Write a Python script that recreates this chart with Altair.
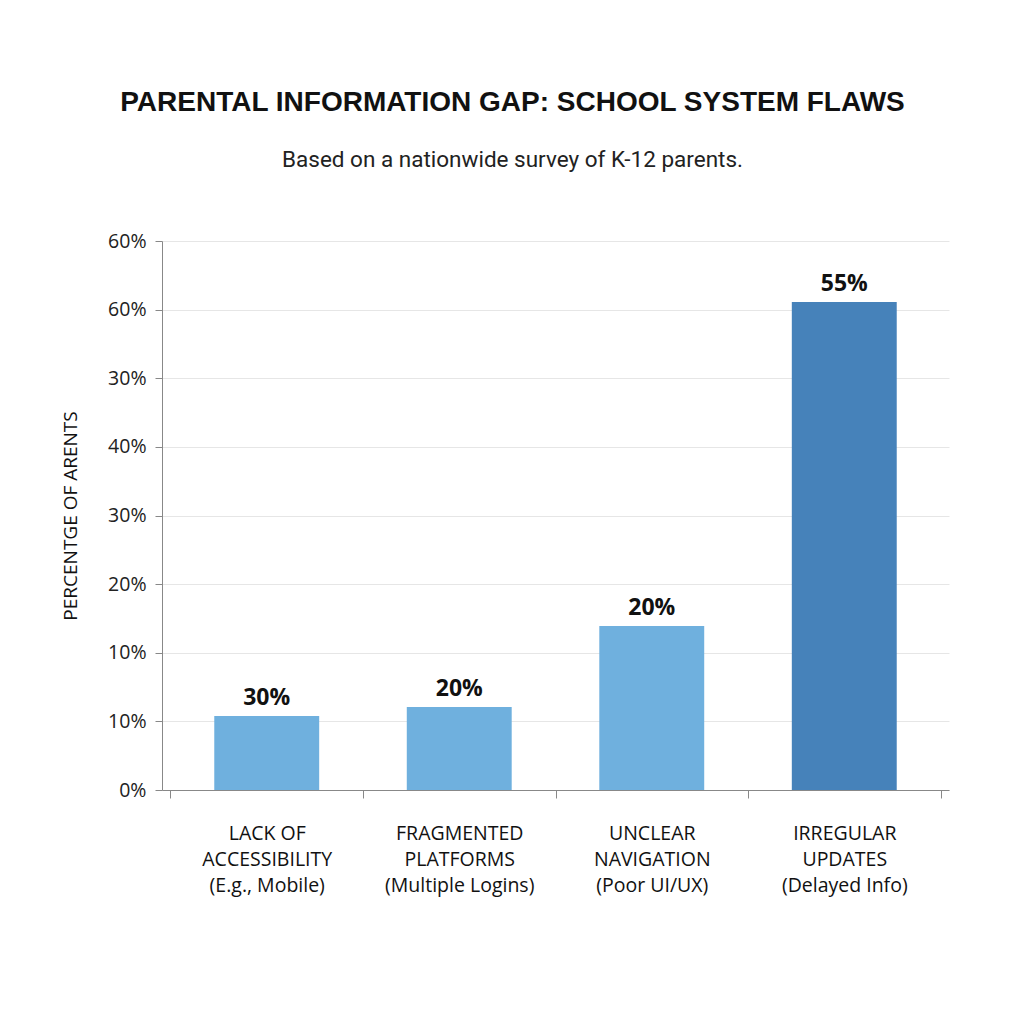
import altair as alt
import pandas as pd

categories = [
    "LACK OF|ACCESSIBILITY|(E.g., Mobile)",
    "FRAGMENTED|PLATFORMS|(Multiple Logins)",
    "UNCLEAR|NAVIGATION|(Poor UI/UX)",
    "IRREGULAR|UPDATES|(Delayed Info)",
]
# bar heights in axis-tick units (tick positions 0..8 as drawn)
heights = [1.08, 1.21, 2.39, 7.11]
bar_labels = ["30%", "20%", "20%", "55%"]
bar_colors = ["#6FB0DE", "#6FB0DE", "#6FB0DE", "#4682BA"]
tick_labels = ["0%", "10%", "10%", "20%", "30%", "40%", "30%", "60%", "60%"]

df = pd.DataFrame({"cat": categories, "h": heights, "lab": bar_labels, "col": bar_colors})

label_expr = "[" + ",".join(f"'{t}'" for t in tick_labels) + "][datum.value]"

x = alt.X("cat:N", sort=categories, title=None,
          scale=alt.Scale(paddingInner=0, paddingOuter=0.044),
          axis=alt.Axis(labelAngle=0, labelExpr="split(datum.label, '|')",
                        labelFont="Open Sans", labelFontSize=19.5, labelColor="#111",
                        labelLineHeight=26, labelPadding=26, labelBaseline="top",
                        domainColor="#888", tickColor="#888", tickBand="extent",
                        tickSize=8))
y = alt.Y("h:Q", title="PERCENTGE OF ARENTS",
          scale=alt.Scale(domain=[0, 8], nice=False),
          axis=alt.Axis(values=list(range(9)), labelExpr=label_expr,
                        labelFont="Open Sans", labelFontSize=19.5, labelColor="#222",
                        labelPadding=9, tickSize=7, tickColor="#888",
                        domainColor="#888", gridColor="#E6E6E6",
                        titleFont="Open Sans", titleFontSize=19, titleFontWeight="normal",
                        titleColor="#111", titlePadding=27))

bars = alt.Chart(df).mark_bar(width=alt.RelativeBandSize(0.545)).encode(
    x=x, y=y, color=alt.Color("col:N", scale=None))
text = alt.Chart(df).mark_text(font="Open Sans", fontSize=23, fontWeight="bold",
                               color="#111", dy=-6, baseline="bottom").encode(
    x=alt.X("cat:N", sort=categories), y="h:Q", text="lab:N")

chart = (bars + text).properties(
    width=787, height=549,
    background="white",
    title=alt.TitleParams(
        "PARENTAL INFORMATION GAP: SCHOOL SYSTEM FLAWS",
        subtitle="Based on a nationwide survey of K-12 parents.",
        font="Liberation Sans", fontSize=28, fontWeight="bold", color="#111",
        subtitleFont="Roboto", subtitleFontSize=22.5, subtitleColor="#222",
        subtitlePadding=32, anchor="middle", dx=-43, offset=60),
    padding={"left": 53, "top": 80, "right": 20, "bottom": 20},
).configure_view(stroke=None)

chart.save("out.html", embed_options={"renderer": "svg", "actions": False})
